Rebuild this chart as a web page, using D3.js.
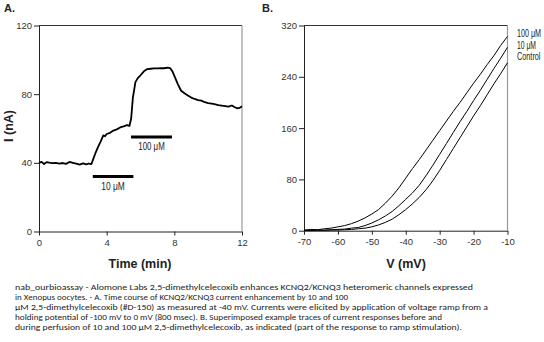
<!DOCTYPE html>
<html lang="en">
<head>
    <meta charset="UTF-8">
    <title>KCNQ2/KCNQ3 - 2,5-dimethylcelecoxib</title>
    <script src="https://cdn.jsdelivr.net/npm/d3@7/dist/d3.min.js"></script>
    <style>
        body { margin: 0; background: #fff; }
        .tick text { font-family: "Liberation Sans", Arial, sans-serif; font-size: 9.5px; fill: #333; }
        .tick line { stroke: #222; }
        .axis-title { font-family: "Liberation Sans", Arial, sans-serif; font-weight: bold; font-size: 12.5px; fill: #222; }
        .panel-tag { font-family: "Liberation Sans", Arial, sans-serif; font-weight: bold; font-size: 11px; fill: #222; }
        .note { font-family: "Liberation Sans", Arial, sans-serif; font-size: 10px; fill: #222; }
        .caption { font-family: Carlito, "Open Sans", "Liberation Sans", sans-serif; font-size: 8.6px; fill: #222; }
    </style>
</head>
<body>
<script>
    // 画布大小
    const width = 544;
    const height = 342;

    // A: time course, [min, nA]
    const timeCourse = [
        [0, 40], [0.15, 40.6], [0.3, 39.3], [0.45, 40.4], [0.6, 40.1], [0.8, 39.8],
        [1.0, 40.0], [1.2, 39.6], [1.4, 39.9], [1.6, 39.4], [1.8, 40.5], [2.0, 40.0],
        [2.2, 39.5], [2.4, 39.0], [2.6, 39.7], [2.8, 39.1], [2.95, 39.6], [3.1, 39.3],
        [3.2, 42], [3.35, 46], [3.5, 49.5], [3.65, 52.5], [3.8, 56], [3.9, 55.5],
        [4.0, 56.8], [4.2, 57.5], [4.4, 58.8], [4.6, 59.5], [4.8, 60.6], [5.0, 61.2],
        [5.2, 62], [5.35, 61.5], [5.45, 66], [5.55, 78], [5.7, 87], [5.85, 89.5],
        [6.0, 91], [6.2, 93.3], [6.4, 94.6], [6.6, 94.8], [6.8, 95], [7.0, 95],
        [7.2, 95.1], [7.4, 95.1], [7.6, 95.4], [7.75, 95.2], [7.9, 93], [8.05, 89.5],
        [8.2, 86], [8.4, 82], [8.6, 80.5], [8.8, 79.2], [9.0, 78], [9.2, 77.2],
        [9.4, 76.5], [9.6, 76.2], [9.8, 75.3], [10.0, 74.8], [10.3, 74.4], [10.6, 73.6],
        [10.9, 73.2], [11.2, 72.8], [11.4, 73.4], [11.55, 72.5], [11.7, 71.8], [11.85, 72], [12.0, 73]
    ];

    // drug application bars
    const drugBars = [
        { label: '10 μM', start: 3.18, end: 5.58, level: 32, w: 23.5 },
        { label: '100 μM', start: 5.44, end: 7.86, level: 55, w: 26.5 }
    ];

    const timeTicks = [0, 4, 8, 12];
    const currentTicks = [0, 40, 80, 120];

    // B: ramp currents (nA) at each voltage (mV)
    const voltage = [-70, -68, -66, -64, -62, -60, -58, -56, -54, -52, -50, -48, -46, -44, -42, -40,
        -38, -36, -34, -32, -30, -28, -26, -24, -22, -20, -18, -16, -14, -12, -10];
    const i100uM = [1, 2, 1.5, 3, 4, 6, 8, 11, 15, 20, 26, 33, 43, 54, 67, 82,
        97, 111, 126, 141, 156, 171, 186, 200, 215, 230, 244, 259, 273, 289, 303];
    const i10uM = [0, 1, 0.5, 1, 1.5, 2, 2.5, 4, 5, 8, 12, 17, 23, 30, 39, 49,
        59, 71, 86, 102, 119, 136, 153, 170, 186, 203, 219, 236, 253, 269, 286];
    const iControl = [0.5, 0, 1, 0.5, 1, 1, 1.5, 2, 3, 4, 6, 9, 13, 18, 25, 33,
        42, 52, 64, 78, 94, 111, 128, 145, 162, 179, 195, 212, 229, 245, 262];

    const traces = [
        { name: '100 μM', values: i100uM, w: 24 },
        { name: '10 μM', values: i10uM, w: 19 },
        { name: 'Control', values: iControl, w: 23.5 }
    ];

    const voltageTicks = [-70, -60, -50, -40, -30, -20, -10];
    const rampTicks = [0, 80, 160, 240, 320];

    const captionLines = [
        'nab_ourbioassay - Alomone Labs 2,5-dimethylcelecoxib enhances KCNQ2/KCNQ3 heteromeric channels expressed',
        'in Xenopus oocytes. - A. Time course of KCNQ2/KCNQ3 current enhancement by 10 and 100',
        'µM 2,5-dimethylcelecoxib (#D-150) as measured at -40 mV. Currents were elicited by application of voltage ramp from a',
        'holding potential of -100 mV to 0 mV (800 msec). B. Superimposed example traces of current responses before and',
        'during perfusion of 10 and 100 µM 2,5-dimethylcelecoxib, as indicated (part of the response to ramp stimulation).'
    ];
    const captionWidths = [458, 333, 473, 427, 447];

    let svg = d3.select('body')
        .append('svg')
        .attr('width', width)
        .attr('height', height);

    // 画一个带框的坐标区
    function drawFrame (x, y, xTicks, yTicks) {
        let g = svg.append('g');
        g.append('g')
            .attr('transform', `translate(0,${y.range()[0]})`)
            .call(d3.axisBottom(x).tickValues(xTicks).tickFormat(d => String(d))
                .tickSize(4).tickSizeOuter(0).tickPadding(4))
            .call(a => a.select('.domain').attr('stroke', '#222'));
        g.append('g')
            .attr('transform', `translate(${x.range()[0]},0)`)
            .call(d3.axisLeft(y).tickValues(yTicks).tickFormat(d => String(d))
                .tickSize(5).tickSizeOuter(0).tickPadding(2))
            .call(a => a.select('.domain').attr('stroke', '#222'));
        // top & right border
        g.append('line')
            .attr('x1', x.range()[0]).attr('x2', x.range()[1])
            .attr('y1', y.range()[1]).attr('y2', y.range()[1])
            .attr('stroke', '#333');
        g.append('line')
            .attr('x1', x.range()[1]).attr('x2', x.range()[1])
            .attr('y1', y.range()[0]).attr('y2', y.range()[1])
            .attr('stroke', '#999').attr('stroke-width', 1.2);
        return g;
    }

    // ---------- A ----------
    let xA = d3.scaleLinear().domain([0, 12]).range([39, 242]);
    let yA = d3.scaleLinear().domain([0, 120]).range([231.5, 25.5]);
    drawFrame(xA, yA, timeTicks, currentTicks);

    svg.append('path')
        .datum(timeCourse)
        .attr('fill', 'none')
        .attr('stroke', '#000')
        .attr('stroke-width', 1.8)
        .attr('stroke-linejoin', 'round')
        .attr('d', d3.line().x(d => xA(d[0])).y(d => yA(d[1])));

    svg.append('g')
        .selectAll('line')
        .data(drugBars)
        .join('line')
        .attr('x1', d => xA(d.start))
        .attr('x2', d => xA(d.end))
        .attr('y1', d => yA(d.level))
        .attr('y2', d => yA(d.level))
        .attr('stroke', '#000')
        .attr('stroke-width', 3);

    svg.append('g')
        .selectAll('text')
        .data(drugBars)
        .join('text')
        .attr('class', 'note')
        .attr('text-anchor', 'middle')
        .attr('x', d => xA((d.start + d.end) / 2))
        .attr('y', d => yA(d.level) + 13)
        .attr('textLength', d => d.w)
        .attr('lengthAdjust', 'spacingAndGlyphs')
        .text(d => d.label);

    svg.append('text').attr('class', 'panel-tag').attr('x', 4).attr('y', 12).text('A.');
    svg.append('text').attr('class', 'axis-title')
        .attr('transform', 'translate(13,126) rotate(-90)')
        .attr('text-anchor', 'middle')
        .text('I (nA)');
    svg.append('text').attr('class', 'axis-title')
        .attr('x', 140).attr('y', 268)
        .attr('text-anchor', 'middle')
        .text('Time (min)');

    // ---------- B ----------
    let xB = d3.scaleLinear().domain([-70, -10]).range([304, 507.5]);
    let yB = d3.scaleLinear().domain([0, 320]).range([230.7, 25.5]);
    drawFrame(xB, yB, voltageTicks, rampTicks);

    let rampLine = d3.line()
        .x((d, i) => xB(voltage[i]))
        .y(d => yB(d));

    svg.append('g')
        .selectAll('path')
        .data(traces)
        .join('path')
        .attr('fill', 'none')
        .attr('stroke', '#000')
        .attr('stroke-width', 1)
        .attr('d', d => rampLine(d.values));

    svg.append('g')
        .selectAll('text')
        .data(traces)
        .join('text')
        .attr('class', 'note')
        .attr('x', 517)
        .attr('y', (d, i) => 37 + i * 11.7)
        .attr('textLength', d => d.w)
        .attr('lengthAdjust', 'spacingAndGlyphs')
        .text(d => d.name);

    svg.append('text').attr('class', 'panel-tag').attr('x', 262).attr('y', 12).text('B.');
    svg.append('text').attr('class', 'axis-title')
        .attr('x', 406).attr('y', 268)
        .attr('text-anchor', 'middle')
        .text('V (mV)');

    // ---------- caption ----------
    svg.append('g')
        .selectAll('text')
        .data(captionLines)
        .join('text')
        .attr('class', 'caption')
        .attr('x', 15)
        .attr('y', (d, i) => 289.5 + i * 10)
        .attr('textLength', (d, i) => captionWidths[i])
        .attr('lengthAdjust', 'spacingAndGlyphs')
        .text(d => d);
</script>
</body>
</html>
